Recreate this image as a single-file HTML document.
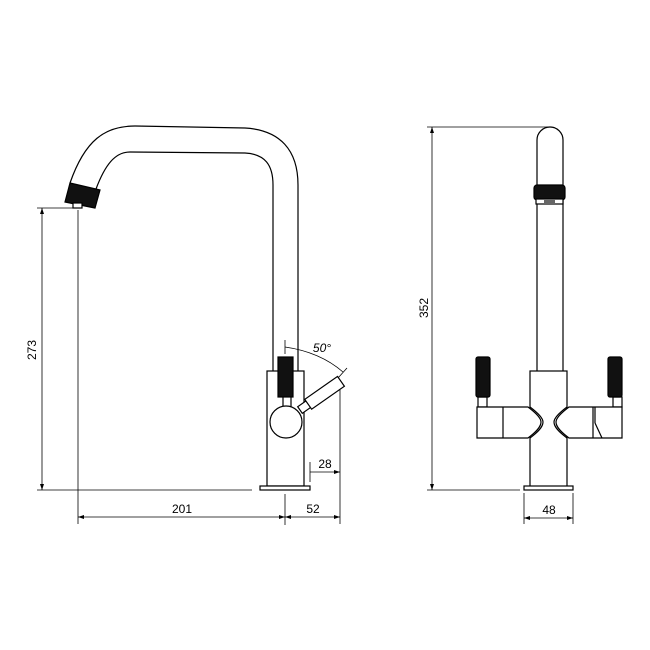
<!DOCTYPE html>
<html><head><style>html,body{margin:0;padding:0;background:#fff}svg{display:block}</style></head><body>
<svg width="650" height="650" viewBox="0 0 650 650" xmlns="http://www.w3.org/2000/svg" font-family="Liberation Sans, Arial, sans-serif">
<g fill="none" stroke="#000" stroke-width="1.2">
<path d="M70,183 C85,140 105,126 135,126 L245,128 C280,130 298,150 298,185 L298,371"/>
<path d="M96,189 C105,165 115,152 130,152 L245,153 C265,154 273,165 273,185 L273,371"/>
<polygon points="70,183 100,190 95,208 65,202" fill="#111"/>
<rect x="73" y="203" width="9" height="5" fill="#fff"/>
<rect x="267" y="371" width="37" height="115" fill="#fff"/>
<rect x="260" y="486" width="50" height="4" fill="#fff"/>
<rect x="283" y="396" width="8" height="16" fill="#fff"/>
<rect x="278" y="357" width="15" height="40" fill="#111"/>
<g transform="translate(300,410) rotate(-35)">
<rect x="0" y="-4" width="12" height="8" fill="#fff"/>
<rect x="10" y="-6" width="40" height="12" fill="#fff"/>
</g>
<circle cx="286" cy="422" r="16" fill="#fff"/>
<g stroke-width="0.8">
<line x1="37" y1="208" x2="75" y2="208"/>
<line x1="37" y1="490" x2="252" y2="490"/>
<line x1="42" y1="208" x2="42" y2="490"/>
<line x1="78" y1="210" x2="78" y2="524"/>
<line x1="78" y1="517" x2="340" y2="517"/>
<line x1="285" y1="494" x2="285" y2="525"/>
<line x1="340" y1="390" x2="340" y2="524"/>
<line x1="310" y1="462" x2="310" y2="482"/>
<line x1="310" y1="472" x2="340" y2="472"/>
<line x1="285" y1="340" x2="285" y2="354"/>
<path d="M285,347 Q320,352 343,372"/>
<line x1="338" y1="378" x2="347" y2="368"/>
</g>
<path d="M537,371 L537,140 A13,13 0 0 1 563,140 L563,371"/>
<rect x="534" y="185" width="31" height="15" rx="3" fill="#111"/>
<rect x="536" y="199" width="27" height="5" fill="#fff"/>
<rect x="544" y="200" width="11" height="3" fill="#666" stroke="none"/>
<rect x="530" y="371" width="37" height="116" fill="#fff"/>
<rect x="524" y="486" width="49" height="4" fill="#fff"/>
<rect x="478" y="397" width="9" height="10" fill="#fff"/>
<rect x="613" y="397" width="9" height="10" fill="#fff"/>
<rect x="476" y="357" width="14" height="40" rx="2" fill="#111"/>
<rect x="608" y="357" width="14" height="40" rx="2" fill="#111"/>
<path d="M477,407 L528,407 C536,413 541,418 541,422 C541,427 536,432 528,438 L477,438 Z" fill="#fff"/>
<path d="M530,407 C538,413 543,418 543,422 C543,427 538,432 530,438" />
<line x1="503" y1="407" x2="503" y2="438"/>
<path d="M622,407 L569,407 C561,413 556,418 556,422 C556,427 561,432 569,438 L622,438 Z" fill="#fff"/>
<path d="M567,407 C559,413 554,418 554,422 C554,427 559,432 567,438"/>
<line x1="593" y1="407" x2="593" y2="438"/>
<line x1="595" y1="407" x2="595" y2="423"/><line x1="595" y1="423" x2="602" y2="438"/>
<g stroke-width="0.8">
<line x1="427" y1="127" x2="548" y2="127"/>
<line x1="427" y1="490" x2="520" y2="490"/>
<line x1="432" y1="127" x2="432" y2="490"/>
<line x1="524" y1="493" x2="524" y2="524"/>
<line x1="573" y1="493" x2="573" y2="524"/>
<line x1="524" y1="518" x2="573" y2="518"/>
</g>
</g>
<g font-size="12" fill="#000" text-anchor="middle">
<text x="36" y="350" transform="rotate(-90 36 350)">273</text>
<text x="182" y="513">201</text>
<text x="313" y="513">52</text>
<text x="325" y="468">28</text>
<text x="322" y="352" font-style="italic">50°</text>
<text x="428" y="308" transform="rotate(-90 428 308)">352</text>
<text x="549" y="514">48</text>
</g>
<g fill="#000">
<polygon points="42,208 40,214 44,214"/><polygon points="42,490 40,484 44,484"/>
<polygon points="78,517 84,515 84,519"/><polygon points="285,517 279,515 279,519"/>
<polygon points="285,517 291,515 291,519"/><polygon points="340,517 334,515 334,519"/>
<polygon points="340,472 334,470 334,474"/>
<polygon points="432,127 430,133 434,133"/><polygon points="432,490 430,484 434,484"/>
<polygon points="524,518 530,516 530,520"/><polygon points="573,518 567,516 567,520"/>
</g>
</svg>
</body></html>
